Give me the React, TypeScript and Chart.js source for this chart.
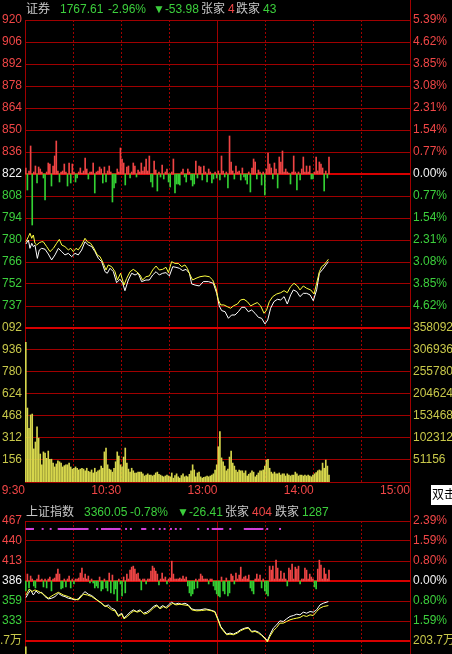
import React, { useEffect, useRef } from 'react';
import { Chart, registerables } from 'chart.js';

Chart.register(...registerables);

// ---------------- data: 证券 (upper chart) ----------------
const secPrevClose = 1821.59;
const secStepPct = 0.0077;
const secPriceLabels = ['920', '906', '892', '878', '864', '850', '836', '822', '808', '794', '780', '766', '752', '737'];
const secPctLabels = ['5.39%', '4.62%', '3.85%', '3.08%', '2.31%', '1.54%', '0.77%', '0.00%', '0.77%', '1.54%', '2.31%', '3.08%', '3.85%', '4.62%'];
const secVolLabels = ['358092', '306936', '255780', '204624', '153468', '102312', '51156', ''];
const secVolShortLabels = ['092', '936', '780', '624', '468', '312', '156', ''];
const secVolTopK = 358.092; // thousand, value of the top volume grid line

// [minute since 9:30, index value]
const secYellow = [[0.6,1778.4],[2.1,1781.6],[3.1,1783.8],[4.2,1780.6],[5.2,1782.7],[6.2,1777.4],[7.3,1776.3],[8.9,1777.8],[10.4,1778.4],[11.4,1778.4],[13.5,1775.3],[15.6,1772.1],[17.7,1774.2],[19.7,1777.4],[21.4,1779.9],[22.9,1776.3],[24.9,1775.3],[27,1773.2],[28.5,1774.2],[30.1,1772.1],[31.8,1774.2],[33.2,1773.2],[35.3,1776.3],[37.4,1780.6],[38.9,1778.4],[40.9,1777.4],[43,1774.2],[45.1,1769.9],[46.8,1768.9],[48.8,1764.6],[50.5,1760.4],[51.9,1763.6],[54,1762.5],[56.1,1759.3],[57.6,1754],[59.6,1758.3],[61.7,1750.8],[63.4,1755.1],[65.5,1759.3],[67.5,1760.8],[69.6,1759.3],[71.7,1757.2],[73.3,1754],[75.4,1756.1],[77.5,1756.6],[79.6,1760.4],[81.7,1762.9],[83.7,1760.4],[85.8,1760.8],[87.9,1762.1],[89.4,1758.7],[91.4,1765.7],[93.5,1764.6],[95.6,1764.6],[97.7,1762.5],[99.7,1763.6],[101.2,1761.5],[102.9,1757.2],[104.5,1754],[106.6,1755.1],[109.1,1756.1],[112.2,1756.6],[114.9,1756.1],[117,1754],[119.1,1748.7],[120.5,1741.3],[122,1738.1],[124,1738.1],[126.1,1737],[128.2,1736],[129.9,1737.5],[132.4,1738.7],[134.4,1741.3],[136.5,1741.7],[138.6,1740.2],[140.7,1737.5],[142.8,1738.7],[144.8,1739.6],[146.9,1737.5],[149,1732.8],[150.6,1734.9],[152.3,1740.2],[154.4,1743.4],[156.9,1745.1],[159.4,1745.9],[161.5,1747.2],[163.5,1745.9],[165.6,1749.8],[167.7,1751.9],[169.8,1750.2],[171.4,1747.7],[173.5,1750.2],[175.6,1748.7],[178.1,1747.7],[180.2,1745.1],[181.8,1751.9],[183.5,1759.3],[184.9,1762.5],[186.4,1763.6],[188,1765.7],[189.1,1767.2]];
const secWhite = [[0.6,1777],[2.1,1779.5],[3.1,1774.2],[4.2,1777.4],[5.2,1775.3],[6.2,1776.3],[7.7,1767.8],[8.9,1773.1],[10.4,1774.2],[12.5,1773.6],[14.5,1770.6],[16.6,1766.8],[18.7,1770],[20.8,1774.2],[22.9,1772.1],[24.9,1770],[27,1771],[29.1,1768.9],[31.2,1771],[33.2,1770],[35.3,1773.1],[37.4,1778.4],[39.5,1776.3],[41.6,1775.3],[43.6,1772.1],[45.7,1767.8],[47.8,1765.7],[49.9,1759.3],[51.3,1758.3],[53,1761.5],[55.1,1759.3],[57.1,1752.3],[59.2,1754.5],[60.9,1751.9],[62.3,1747.2],[64.4,1754],[66.5,1758.3],[68.6,1757.2],[70.6,1758.3],[72.7,1753],[75.4,1754],[77.5,1754],[79.6,1757.2],[81.7,1759.3],[83.7,1757.2],[85.8,1758.3],[87.9,1758.7],[90,1756.6],[92.1,1762.5],[94.1,1762.1],[96.2,1761.5],[98.3,1760],[100.4,1760.8],[102.5,1758.3],[103.9,1751.5],[106,1750.8],[108.7,1750.2],[111.2,1753],[114.3,1753],[117.4,1751.9],[119.5,1745.5],[121.1,1737.5],[122.6,1734.5],[124.7,1733.8],[126.8,1729.6],[128.8,1731.7],[130.9,1731.7],[133,1733.8],[135.1,1736.6],[137.1,1736.6],[139.2,1733.8],[141.3,1734.9],[143.4,1732.8],[145.5,1730.2],[147.5,1729.6],[149.6,1726],[151.3,1728.5],[153.1,1736],[155.2,1740.2],[157.3,1741.7],[159.4,1741.3],[161.5,1743.4],[163.5,1738.7],[165.6,1744.5],[167.3,1747.7],[169.4,1746.6],[171.4,1743.4],[173.5,1745.5],[175.6,1745.5],[177.7,1744.5],[179.7,1740.8],[181.8,1747.7],[183.5,1758.3],[185.6,1760.8],[187.6,1763.6],[189.1,1765.7]];

// per-minute buy/sell strength bars (red up, green down), arbitrary units
const secFlow = [6,-16,3,28,-51,2,8,-9,7,5,2,-4,-26,2,11,10,-12,8,18,33,3,-8,2,3,10,2,-12,11,-9,10,2,-8,-4,2,6,1,3,16,5,-5,2,2,11,-19,2,3,7,5,-9,7,-8,3,8,2,-28,-14,-9,5,2,26,15,11,-11,7,8,-4,2,11,8,-3,4,2,11,3,7,15,3,18,-8,-13,13,4,-17,2,-3,9,-5,2,5,-8,-13,2,15,-19,-10,-10,-11,2,5,-3,-8,5,2,-6,-12,-10,13,-4,8,7,-6,8,2,-8,5,2,-9,-5,2,-4,3,-6,18,3,-3,2,-14,38,12,3,-5,8,2,3,-6,6,-3,-6,-10,2,-18,6,15,12,-5,4,2,-11,2,-21,5,21,10,6,-5,11,5,-14,17,12,23,2,5,2,1,-10,2,18,2,-16,2,-6,5,17,2,8,2,8,-5,-5,2,17,3,12,10,6,-17,3,-4,17];

// per-minute volume, thousands
const secVolume = [325,172,125,156,158,77,93,128,102,65,40,70,67,55,72,53,53,44,35,42,49,47,44,35,38,40,40,44,35,30,32,35,32,28,30,32,30,26,32,25,23,28,21,32,23,26,28,37,32,70,79,40,30,28,23,32,47,70,60,40,35,58,79,44,30,23,32,26,21,21,23,23,23,19,14,16,19,16,16,14,16,21,23,18,16,14,12,14,16,14,12,21,9,15,19,12,9,15,19,12,14,12,18,26,40,28,12,21,23,12,9,11,12,14,12,14,16,19,28,40,82,117,56,47,37,26,30,58,72,44,37,28,23,28,26,26,21,26,14,18,21,26,23,12,16,21,26,26,28,37,51,53,32,23,19,23,19,19,21,16,19,19,14,19,16,14,16,16,23,19,14,16,16,14,16,14,16,14,12,16,19,22,26,28,26,44,32,51,37,16];

const secHeader = { name: '证券', last: '1767.61', pct: '-2.96%', chg: '▼-53.98', up: '4', down: '43' };

// ---------------- data: 上证指数 (lower chart) ----------------
const shPrevClose = 3386.46;
const shStepPct = 0.00797;
const shPriceLabels = ['467', '440', '413', '386', '359', '333'];
const shPctLabels = ['2.39%', '1.59%', '0.80%', '0.00%', '0.80%', '1.59%'];
const shVolLabels = ['203.7万'];
const shVolTopWan = 203.7;

const shWhite = [[0.6,3364.1],[2.1,3369.9],[3.5,3374.4],[5.2,3367.6],[6.9,3373],[8.3,3369.9],[10.4,3371.2],[12.5,3365.4],[14.5,3362.3],[16.6,3363.2],[18.7,3365.4],[20.8,3369.9],[22.9,3366.7],[24.9,3365.4],[27,3363.2],[29.1,3362.3],[31.2,3360.9],[33.2,3362.3],[35.3,3367.6],[37.4,3372.1],[39.5,3368.6],[41.6,3366.8],[43.6,3363.2],[45.7,3359.6],[47.8,3356.5],[49.9,3352],[51.9,3354.2],[54,3349.8],[56.1,3347.5],[58.2,3339.9],[60.3,3343],[61.7,3336.3],[63.4,3339.9],[65.5,3344.4],[67.5,3347.5],[69.6,3345.3],[71.7,3347.5],[73.8,3343],[75.8,3344.4],[77.9,3347.5],[80,3352],[82.1,3354.2],[83.7,3349.8],[85.8,3353.3],[87.9,3350.6],[89.4,3354.2],[91.4,3357.8],[93.5,3355.1],[95.6,3356.4],[97.7,3355.1],[99.7,3356.4],[101.8,3354.2],[103.9,3348.9],[106,3347.5],[109.1,3347.5],[112.2,3348.9],[115.3,3347.5],[118.4,3345.3],[120.5,3334.1],[122,3325.1],[123.6,3320.6],[125.7,3314.8],[127.8,3316.2],[129.9,3314.8],[132.4,3317.5],[134.4,3320.6],[137.1,3322.9],[139.2,3323.8],[141.3,3318.4],[143.4,3319.3],[145.5,3317.5],[147.5,3313.9],[149.6,3309.5],[151.1,3305.9],[152.7,3313.9],[154.8,3322.9],[156.9,3327.4],[158.9,3332.7],[161,3331.8],[163.1,3335.4],[165.2,3338.6],[167.3,3339.9],[169.4,3341.7],[171.4,3340.8],[173.5,3344.4],[175.6,3343],[177.7,3345.3],[179.7,3344.4],[181.8,3347.5],[183.9,3354.2],[186,3356.5],[189.1,3358.7]];
const shYellow = [[0.6,3367.6],[2.7,3375.7],[4.2,3372.1],[6.2,3374.4],[8.9,3372.1],[11.4,3368.6],[14.5,3363.2],[17.7,3367.6],[20.8,3371.2],[23.9,3367.6],[27,3365.4],[30.1,3362.3],[33.2,3360.9],[36.4,3368.6],[38.9,3367.6],[41.6,3365.4],[44.7,3360.9],[46.8,3357.8],[49.2,3353.3],[51.3,3352],[54,3347.5],[56.1,3346.2],[58.2,3338.6],[60.3,3341.7],[61.7,3335.4],[63.8,3338.6],[65.9,3343],[67.9,3346.2],[70,3344.4],[72.1,3346.2],[74.2,3341.7],[76.3,3343],[78.3,3346.2],[80.4,3350.6],[82.5,3353.3],[84.2,3348.9],[86.2,3352],[88.3,3349.8],[90,3353.3],[92.1,3356.4],[94.1,3354.2],[96.6,3355.1],[99.1,3354.2],[101.8,3353.3],[103.9,3347.5],[107,3346.2],[110.1,3346.6],[113.2,3347.5],[116.4,3346.2],[118.4,3344.4],[120.5,3332.7],[122,3323.8],[123.6,3319.3],[125.7,3313.9],[127.8,3314.8],[129.9,3313.9],[132.4,3316.2],[134.4,3319.3],[137.1,3322],[139.2,3322.9],[141.3,3317.5],[143.4,3318.4],[145.5,3316.2],[147.5,3313],[149.6,3308.6],[151.1,3304.1],[152.7,3311.7],[154.8,3319.3],[156.9,3323.8],[158.9,3329.6],[161,3329.6],[163.1,3331.8],[165.2,3334.1],[167.3,3335.4],[169.4,3336.3],[171.4,3337.2],[173.5,3339.9],[175.6,3338.6],[177.7,3340.8],[179.7,3339.9],[181.8,3345.3],[183.9,3349.8],[186,3352],[189.1,3353.3]];

const shFlow = [-10,7,-7,5,2,-5,-7,2,6,1,2,-6,2,-7,2,4,-10,2,3,7,12,7,-8,-7,2,-6,2,5,-7,2,-3,2,2,3,8,13,3,7,2,5,-2,2,-2,-7,-5,-7,4,-10,-8,2,-7,-10,8,-12,6,-13,-8,-20,2,-3,-15,4,-12,7,2,11,14,15,12,7,8,2,-9,2,2,-3,2,2,10,15,13,10,7,-4,2,8,2,4,-3,2,3,20,7,2,2,2,3,2,5,2,4,-5,-12,-15,-13,-8,2,-7,2,7,5,2,2,2,-3,2,2,-5,-9,-13,-15,-16,4,-10,-13,3,-15,-12,7,5,-3,8,2,6,14,2,4,5,2,6,-7,-10,-13,2,7,2,6,-7,2,-10,-13,-15,15,11,15,2,21,13,2,10,2,8,2,-5,13,11,17,2,14,12,15,-3,2,2,13,11,2,7,4,2,-6,-8,12,21,16,2,13,7,2,11];

// signal marks (minute ranges)
const shSignalRanges = [[1,5],[11,11],[16,16],[21,39],[45,45],[48,59],[63,63],[66,66],[73,75],[80,80],[84,84],[87,87],[91,91],[94,94],[97,97],[108,108],[114,114],[117,123],[128,128],[137,148],[151,151],[159,159]];
const shSignalLevel = 3456.7;
const shVolume = [193.6]; // 万, first minute (only part visible)

const shHeader = { name: '上证指数', last: '3360.05', pct: '-0.78%', chg: '▼-26.41', up: '404', down: '1287' };

// ---------------- time axis ----------------
const gridMinutes = [0, 30, 60, 90, 120, 150, 180, 210, 240];
const timeLabelMinutes = [0, 60, 120, 180, 240];
const timeLabelTexts = ['9:30', '10:30', '13:00', '14:00', '15:00'];

// ---------------- styles ----------------
const FONT = "'Liberation Sans', 'Noto Sans CJK SC', sans-serif";
const RED = '#f04646';
const GREEN = '#3ccf3c';
const WHITE = '#f2f2f2';
const YEL_LBL = '#c8c84a';
const GRAY = '#c8c8c8';
const GRID = '#a00000';
const GRID_HI = '#d80000';
const BAR_RED = '#ee4444';
const BAR_GREEN = '#33d033';
const VOL_COLOR = '#d6d64c';
const LINE_YEL = '#ffff40';
const LINE_WHITE = '#ffffff';
const SIGNAL = '#d040d8';

const gridValues = (prev: number, step: number, kFrom: number, kTo: number) => {
  const out: number[] = [];
  for (let k = kFrom; k >= kTo; k--) out.push(prev * (1 + k * step));
  return out;
};

function labelAxis(position: 'left' | 'right', min: number, max: number, values: number[], labels: string[],
  colorAt: (i: number) => string, width: number, grid: null | { color: (i: number) => string; width: (i: number) => number }) {
  return {
    type: 'linear',
    position,
    min,
    max,
    afterBuildTicks: (s: any) => { s.ticks = values.map((v) => ({ value: v })); },
    afterFit: (s: any) => { s.width = width; s.paddingTop = 0; s.paddingBottom = 0; },
    ticks: {
      autoSkip: false,
      padding: 3,
      font: { family: FONT, size: 12 },
      color: (c: any) => colorAt(c.index),
      callback: (_v: any, i: number) => labels[i] ?? '',
    },
    grid: grid
      ? { display: true, drawTicks: false, color: (c: any) => grid.color(c.index), lineWidth: (c: any) => grid.width(c.index) }
      : { display: false, drawTicks: false },
    border: { display: false },
  };
}

function timeAxis(showLabels: boolean, height: number) {
  return {
    type: 'linear',
    position: 'bottom',
    min: 0,
    max: 240,
    offset: false,
    afterBuildTicks: (s: any) => { s.ticks = gridMinutes.map((v) => ({ value: v })); },
    afterFit: (s: any) => { s.height = height; s.paddingLeft = 0; s.paddingRight = 0; },
    ticks: {
      display: showLabels,
      autoSkip: false,
      maxRotation: 0,
      minRotation: 0,
      align: 'end',
      padding: 1,
      color: RED,
      font: { family: FONT, size: 12 },
      callback: (v: any) => {
        const i = timeLabelMinutes.indexOf(v);
        return i >= 0 ? timeLabelTexts[i] : '';
      },
    },
    grid: { display: true, drawTicks: false, offset: false, color: GRID, lineWidth: 1 },
    border: { display: false, dash: (c: any) => (c.tick && c.tick.value % 120 !== 0 ? [2, 2] : []) },
  };
}

const toXY = (pairs: number[][]) => pairs.map(([x, y]) => ({ x, y }));
const perMinute = (vals: number[]) => vals.map((y, i) => ({ x: i + 0.5, y }));

function topConfig(): any {
  const values = gridValues(secPrevClose, secStepPct, 7, -14);
  const min = values[values.length - 1];
  const max = values[0];
  const leftLabels = [...secPriceLabels, ...secVolShortLabels];
  const rightLabels = [...secPctLabels, ...secVolLabels];
  const colorAt = (i: number) => (i < 7 ? RED : i === 7 ? WHITE : i < 14 ? GREEN : YEL_LBL);
  const grid = {
    color: (i: number) => (i === 7 || i === 14 ? GRID_HI : GRID),
    width: (i: number) => (i === 7 || i === 14 ? 2 : 1),
  };
  return {
    type: 'line',
    data: {
      datasets: [
        { type: 'line', data: toXY(secYellow), yAxisID: 'yL', borderColor: LINE_YEL, borderWidth: 1, pointRadius: 0, order: 0 },
        { type: 'line', data: toXY(secWhite), yAxisID: 'yL', borderColor: LINE_WHITE, borderWidth: 1, pointRadius: 0, order: 1 },
        { type: 'bar', data: perMinute(secFlow), yAxisID: 'yFlow', backgroundColor: secFlow.map((v) => (v >= 0 ? BAR_RED : BAR_GREEN)), barThickness: 1, grouped: false, order: 2 },
        { type: 'bar', data: perMinute(secVolume), yAxisID: 'yVol', backgroundColor: VOL_COLOR, barThickness: 1, grouped: false, order: 3 },
      ],
    },
    options: {
      responsive: false,
      animation: false,
      devicePixelRatio: 1,
      layout: { padding: { top: 20, left: 0, right: 0, bottom: 0 } },
      plugins: { legend: { display: false }, tooltip: { enabled: false } },
      events: [],
      scales: {
        x: timeAxis(true, 18),
        yL: labelAxis('left', min, max, values, leftLabels, colorAt, 25, grid),
        yR: labelAxis('right', min, max, values, rightLabels, colorAt, 42, null),
        yFlow: { type: 'linear', display: false, min: -308, max: 154 },
        yVol: { type: 'linear', display: false, min: 0, max: secVolTopK * 3 },
      },
    },
  };
}

function bottomConfig(): any {
  const values = gridValues(shPrevClose, shStepPct, 3, -3);
  const max = values[0];
  const min = shPrevClose * (1 - 9 * shStepPct);
  const leftLabels = [...shPriceLabels, ...shVolLabels];
  const rightLabels = [...shPctLabels, ...shVolLabels];
  const colorAt = (i: number) => (i < 3 ? RED : i === 3 ? WHITE : i < 6 ? GREEN : YEL_LBL);
  const grid = {
    color: (i: number) => (i === 3 || i === 6 ? GRID_HI : GRID),
    width: (i: number) => (i === 3 || i === 6 ? 2 : 1),
  };
  const sigOn = (m: number) => shSignalRanges.some(([a, b]) => m >= a && m <= b);
  const sigData = Array.from({ length: 191 }, (_, m) => ({ x: m, y: sigOn(m) ? shSignalLevel : null }));
  return {
    type: 'line',
    data: {
      datasets: [
        { type: 'line', data: toXY(shYellow), yAxisID: 'yL', borderColor: LINE_YEL, borderWidth: 1, pointRadius: 0, order: 0 },
        { type: 'line', data: toXY(shWhite), yAxisID: 'yL', borderColor: LINE_WHITE, borderWidth: 1, pointRadius: 0, order: 1 },
        { type: 'line', data: sigData, yAxisID: 'yL', borderColor: SIGNAL, backgroundColor: SIGNAL, borderWidth: 2, pointRadius: 1.4, pointStyle: 'rect', pointBorderWidth: 0, spanGaps: false, order: 2 },
        { type: 'bar', data: perMinute(shFlow), yAxisID: 'yFlow', backgroundColor: shFlow.map((v) => (v >= 0 ? BAR_RED : BAR_GREEN)), barThickness: 1, grouped: false, order: 3 },
        { type: 'bar', data: perMinute(shVolume), yAxisID: 'yVol', backgroundColor: VOL_COLOR, barThickness: 1, grouped: false, order: 4 },
      ],
    },
    options: {
      responsive: false,
      animation: false,
      devicePixelRatio: 1,
      layout: { padding: { top: 26, left: 0, right: 0, bottom: 0 } },
      plugins: { legend: { display: false }, tooltip: { enabled: false } },
      events: [],
      scales: {
        x: timeAxis(false, 2),
        yL: labelAxis('left', min, max, values, leftLabels, colorAt, 25, grid),
        yR: labelAxis('right', min, max, values, rightLabels, colorAt, 42, null),
        yFlow: { type: 'linear', display: false, min: -181.5, max: 60.5 },
        yVol: { type: 'linear', display: false, min: 0, max: shVolTopWan * 2 },
      },
    },
  };
}

type Hdr = { name: string; last: string; pct: string; chg: string; up: string; down: string };

function Header({ h, top, pos }: { h: Hdr; top: number; pos: number[] }) {
  const items: [string, string][] = [
    [h.name, GRAY], [h.last, GREEN], [h.pct, GREEN], [h.chg, GREEN],
    ['张家', GRAY], [h.up, RED], ['跌家', GRAY], [h.down, GREEN],
  ];
  return (
    <>
      {items.map(([t, c], i) => (
        <span key={i} style={{ position: 'absolute', left: pos[i], top, color: c, fontSize: 12, lineHeight: '14px', whiteSpace: 'nowrap', fontFamily: FONT }}>{t}</span>
      ))}
    </>
  );
}

export default function App() {
  const topRef = useRef<HTMLCanvasElement>(null);
  const botRef = useRef<HTMLCanvasElement>(null);
  useEffect(() => {
    const a = new Chart(topRef.current as HTMLCanvasElement, topConfig());
    const b = new Chart(botRef.current as HTMLCanvasElement, bottomConfig());
    return () => { a.destroy(); b.destroy(); };
  }, []);
  return (
    <div style={{ position: 'fixed', left: 0, top: 0, width: 452, height: 654, overflow: 'hidden', background: '#000', fontFamily: FONT }}>
      <canvas ref={topRef} width={452} height={500} style={{ position: 'absolute', left: 0, top: 0, width: 452, height: 500 }} />
      <canvas ref={botRef} width={452} height={270} style={{ position: 'absolute', left: 0, top: 495, width: 452, height: 270 }} />
      <div style={{ position: 'absolute', left: 410, top: 0, width: 1, height: 654, background: GRID }} />
      <Header h={secHeader} top={2} pos={[26, 60, 108, 153, 201, 228, 236, 263]} />
      <Header h={shHeader} top={505} pos={[26, 84, 130, 177, 225, 252, 275, 302]} />
      <div style={{ position: 'absolute', left: 431, top: 485, width: 30, height: 20, background: '#fff', color: '#000', fontSize: 12, lineHeight: '20px', paddingLeft: 1, whiteSpace: 'nowrap', overflow: 'hidden', fontFamily: FONT }}>双击</div>
    </div>
  );
}
